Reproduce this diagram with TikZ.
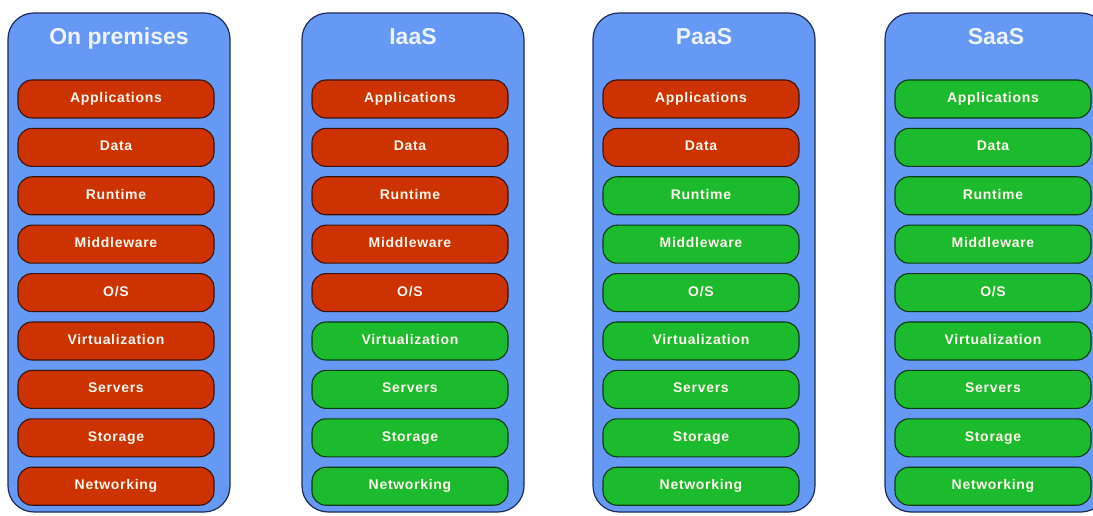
\documentclass[tikz,border=0pt]{standalone}
\usepackage{fontspec}
\setmainfont{Liberation Sans}
\newfontfamily\labelfont[LetterSpace=5]{Liberation Sans}
\definecolor{panelblue}{HTML}{6699F5}
\definecolor{panelline}{HTML}{1C2B5A}
\definecolor{mgred}{HTML}{CC3300}
\definecolor{mggreen}{HTML}{1CBB2E}
\definecolor{redline}{HTML}{3B1208}
\definecolor{greenline}{HTML}{0B3A12}
\definecolor{titlewhite}{HTML}{EEF3FF}
\definecolor{labelwhite}{HTML}{FFF6EE}
\begin{document}
\begin{tikzpicture}[x=1pt,y=1pt,
  panel/.style={draw=panelline, line width=1.2pt, fill=panelblue, rounded corners=26pt, minimum width=222pt, minimum height=499pt, inner sep=0pt},
  layer/.style={rounded corners=14pt, minimum width=196pt, minimum height=38pt, line width=1.1pt, font=\labelfont\bfseries\fontsize{14}{15}\selectfont, text=labelwhite, inner sep=0pt, text height=1.45ex, text depth=.1ex},
  managed/.style={layer, fill=mgred, draw=redline},
  vendor/.style={layer, fill=mggreen, draw=greenline},
  title/.style={font=\bfseries\fontsize{23}{26}\selectfont, text=titlewhite, anchor=base}]
\clip (0,0) rectangle (1093,515);
\foreach \c/\x/\ttl/\nr in {1/8/On premises/9, 2/302/IaaS/5, 3/593/PaaS/2, 4/885/SaaS/0}{
  \node[panel] (p\c) at (\x+111, 252.5) {};
  \node[title] (t\c) at (\x+111, 470) {\ttl};
  \foreach \lab [count=\j from 0] in {Applications, Data, Runtime, Middleware, O/S, Virtualization, Servers, Storage, Networking}{
    \ifnum\j<\nr\relax \def\sty{managed}\else\def\sty{vendor}\fi
    \node[\sty] (l\c-\j) at (\x+108, 515-99-48.4*\j) {\lab};
  }
}
\end{tikzpicture}
\end{document}
